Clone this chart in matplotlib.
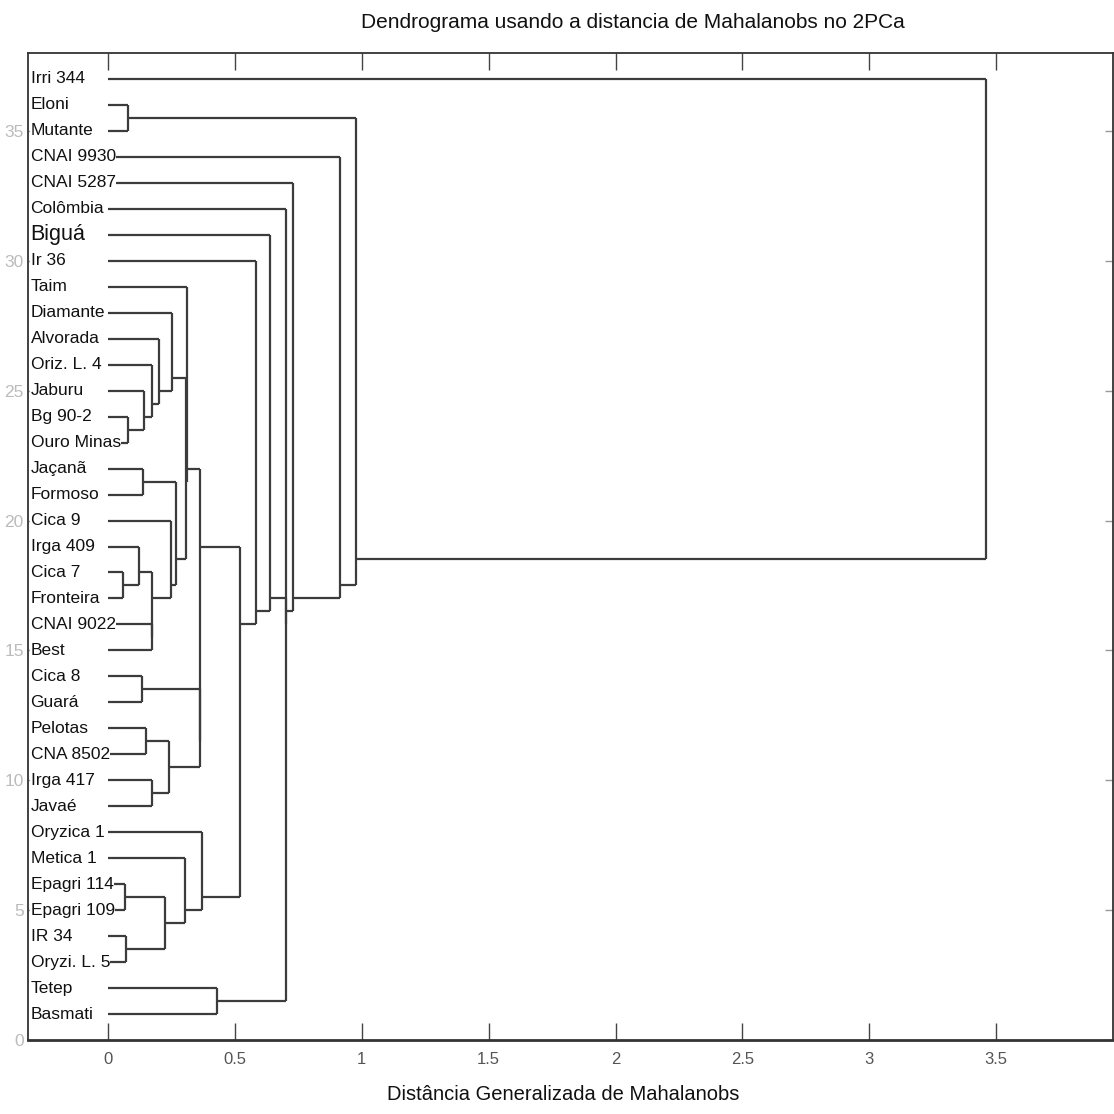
import matplotlib.pyplot as plt

# Cultivares, de cima para baixo no dendrograma
leaves = ["Irri 344", "Eloni", "Mutante", "CNAI 9930", "CNAI 5287", "Colômbia", "Biguá",
          "Ir 36", "Taim", "Diamante", "Alvorada", "Oriz. L. 4", "Jaburu", "Bg 90-2",
          "Ouro Minas", "Jaçanã", "Formoso", "Cica 9", "Irga 409", "Cica 7", "Fronteira",
          "CNAI 9022", "Best", "Cica 8", "Guará", "Pelotas", "CNA 8502", "Irga 417",
          "Javaé", "Oryzica 1", "Metica 1", "Epagri 114", "Epagri 109", "IR 34",
          "Oryzi. L. 5", "Tetep", "Basmati"]

# Fusões (nó novo, ramo a, ramo b, distância de ligação)
node_id = ["n1", "n2", "n3", "n4", "n5", "n6", "n7", "n8", "n9", "n10", "n11", "n12",
           "n13", "n14", "n15", "n16", "n17", "n18", "n19", "n20", "n21", "n22", "n23",
           "n24", "n25", "n26", "n27", "n28", "n29", "n30", "n31", "n32", "n33", "n34",
           "n35", "n36"]
branch_a = ["Bg 90-2", "Jaburu", "Oriz. L. 4", "Alvorada", "Diamante", "Jaçanã", "Cica 7",
            "Irga 409", "CNAI 9022", "n8", "Cica 9", "n6", "n5", "Taim", "Cica 8",
            "Pelotas", "Irga 417", "n16", "n15", "n14", "Epagri 114", "IR 34", "n21",
            "Metica 1", "Oryzica 1", "n20", "Ir 36", "Biguá", "Tetep", "n28", "Colômbia",
            "CNAI 5287", "CNAI 9930", "Eloni", "n34", "Irri 344"]
branch_b = ["Ouro Minas", "n1", "n2", "n3", "n4", "Formoso", "Fronteira", "n7", "Best",
            "n9", "n10", "n11", "n12", "n13", "Guará", "CNA 8502", "Javaé", "n17", "n18",
            "n19", "Epagri 109", "Oryzi. L. 5", "n22", "n23", "n24", "n25", "n26", "n27",
            "Basmati", "n29", "n30", "n31", "n32", "Mutante", "n33", "n35"]
fusion_dist = [0.080, 0.143, 0.175, 0.202, 0.251, 0.137, 0.060, 0.123, 0.175, 0.175,
               0.247, 0.270, 0.307, 0.312, 0.133, 0.148, 0.175, 0.240, 0.362, 0.362,
               0.067, 0.073, 0.224, 0.303, 0.369, 0.520, 0.585, 0.638, 0.430, 0.700,
               0.700, 0.730, 0.913, 0.080, 0.979, 3.46]

x_ticks = [0, 0.5, 1, 1.5, 2, 2.5, 3, 3.5]
x_tick_labels = ["0", "0.5", "1", "1.5", "2", "2.5", "3", "3.5"]
y_ticks = [0, 5, 10, 15, 20, 25, 30, 35]

line_color = "#3c3c3c"
font = ["Liberation Sans", "DejaVu Sans"]

fig = plt.figure(figsize=(11.14, 11.14), dpi=100)
ax = fig.add_axes([28 / 1114, 74 / 1114, 1085 / 1114, 987 / 1114])

# posição de cada ramo: (distância, posição vertical, soma das posições, nº de folhas)
n = len(leaves)
pos = {}
for i, name in enumerate(leaves):
    y = n - i
    pos[name] = (0.0, float(y), float(y), 1)

for nid, a, b, h in zip(node_id, branch_a, branch_b, fusion_dist):
    xa, ya, sa, ca = pos[a]
    xb, yb, sb, cb = pos[b]
    ax.plot([xa, h], [ya, ya], color=line_color, lw=1.6, solid_capstyle="butt")
    ax.plot([xb, h], [yb, yb], color=line_color, lw=1.6, solid_capstyle="butt")
    ax.plot([h, h], [ya, yb], color=line_color, lw=1.6, solid_capstyle="butt")
    pos[nid] = (h, (sa + sb) / (ca + cb), sa + sb, ca + cb)

for i, name in enumerate(leaves):
    size = 15.5 if name == "Biguá" else 12.5
    ax.text(-0.305, n - i, name, ha="left", va="center", fontsize=size, family=font,
            color="#111111", zorder=5,
            bbox=dict(facecolor="white", edgecolor="none", pad=0.3))

ax.set_xlim(-0.315, 3.96)
ax.set_ylim(0, 38)

ax.set_xticks(x_ticks)
ax.set_xticklabels(x_tick_labels, family=font, fontsize=12, color="#555555")
ax.set_yticks(y_ticks)
ax.set_yticklabels([str(v) for v in y_ticks], family=font, fontsize=12.5, color="#bbbbbb")
ax.tick_params(axis="x", direction="in", length=12, width=1, color="#444444",
               top=True, pad=9)
ax.tick_params(axis="y", direction="in", length=6, width=1, color="#999999",
               right=True, pad=3)

for side in ["left", "top", "right"]:
    ax.spines[side].set_color("#333333")
    ax.spines[side].set_linewidth(1.3)
ax.spines["bottom"].set_color("#333333")
ax.spines["bottom"].set_linewidth(2)

fig.text(633 / 1114, 1 - 22 / 1114, "Dendrograma usando a distancia de Mahalanobs no 2PCa",
         ha="center", va="center", fontsize=15, family=font, color="#111111")
fig.text(563 / 1114, 1 - 1095 / 1114, "Distância Generalizada de Mahalanobs",
         ha="center", va="center", fontsize=14.5, family=font, color="#111111")

fig.savefig("out.png", dpi=100)
